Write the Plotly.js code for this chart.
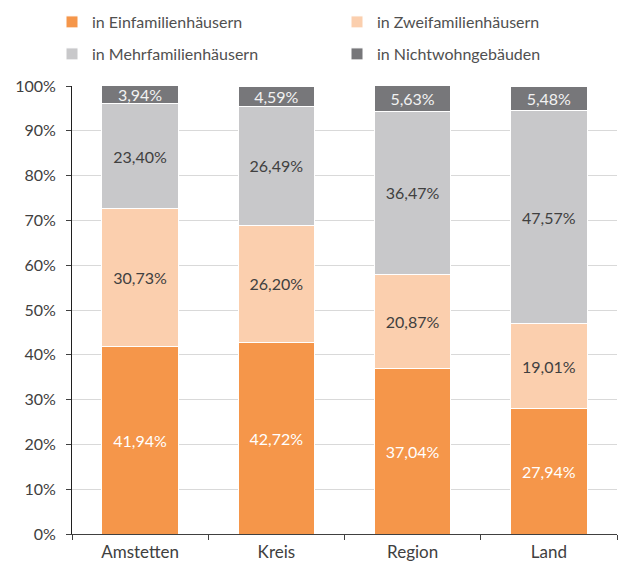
<!DOCTYPE html>
<html>
<head>
<meta charset="utf-8">
<script src="https://cdn.plot.ly/plotly-3.0.1.min.js"></script>
<style>html,body{margin:0;padding:0;background:#fff;}#chart{width:619px;height:561px;}</style>
</head>
<body>
<div id="chart"></div>
<script>
const categories = ["Amstetten", "Kreis", "Region", "Land"];
const seriesNames = ["in Einfamilienhäusern", "in Zweifamilienhäusern", "in Mehrfamilienhäusern", "in Nichtwohngebäuden"];
const einfamilien = [41.94, 42.72, 37.04, 27.94];
const zweifamilien = [30.73, 26.20, 20.87, 19.01];
const mehrfamilien = [23.40, 26.49, 36.47, 47.57];
const nichtwohn = [3.94, 4.59, 5.63, 5.48];
const yTicks = [0, 10, 20, 30, 40, 50, 60, 70, 80, 90, 100];
const yTickLabels = ["0%", "10%", "20%", "30%", "40%", "50%", "60%", "70%", "80%", "90%", "100%"];

const colors = ["#F5964A", "#FBCFAE", "#C8C8CA", "#77777A"];
const textColors = ["#FFFFFF", "#404040", "#404040", "#F2F2F2"];
const values = [einfamilien, zweifamilien, mehrfamilien, nichtwohn];
const legendIds = ["legend", "legend2", "legend3", "legend4"];

const FONT = "Lato, sans-serif";

const traces = values.map((v, i) => ({
  type: "bar",
  name: seriesNames[i],
  legend: legendIds[i],
  x: categories,
  y: v,
  marker: { color: colors[i], line: { color: "#FFFFFF", width: 1 } },
  texttemplate: "%{y:.2f}%",
  textposition: "inside",
  insidetextanchor: "middle",
  textangle: 0,
  textfont: { family: FONT, size: 16, color: textColors[i] },
  hoverinfo: "skip"
}));

function legendAt(xPx, yPx) {
  return {
    orientation: "h",
    xref: "container", yref: "container",
    xanchor: "left", yanchor: "middle",
    x: xPx / 619, y: 1 - yPx / 561,
    font: { family: FONT, size: 16, color: "#505050" },
    bgcolor: "rgba(0,0,0,0)"
  };
}

const layout = {
  width: 619,
  height: 561,
  barmode: "stack",
  bargap: 0.44,
  separators: ", ",
  paper_bgcolor: "#FFFFFF",
  plot_bgcolor: "#FFFFFF",
  margin: { l: 72, r: 2, t: 86, b: 27 },
  font: { family: FONT, color: "#404040", size: 16 },
  uniformtext: { mode: "show", minsize: 16 },
  showlegend: true,
  legend: legendAt(52, 22),
  legend2: legendAt(337, 22),
  legend3: legendAt(52, 54),
  legend4: legendAt(337, 54),
  xaxis: {
    type: "category",
    showline: true,
    linecolor: "#404040",
    linewidth: 1,
    ticks: "outside",
    tickson: "boundaries",
    ticklen: 5,
    tickcolor: "#404040",
    ticklabelstandoff: 3,
    showgrid: false,
    tickfont: { size: 17, color: "#404040" }
  },
  yaxis: {
    range: [0, 100],
    tickmode: "array",
    tickvals: yTicks,
    ticktext: yTickLabels,
    showline: true,
    linecolor: "#202020",
    linewidth: 1,
    ticks: "outside",
    ticklen: 5,
    tickcolor: "#404040",
    ticklabelstandoff: 7,
    showgrid: true,
    gridcolor: "#D9D9D9",
    gridwidth: 1,
    zeroline: false,
    tickfont: { size: 16, color: "#404040" }
  }
};

Plotly.newPlot("chart", traces, layout, { displayModeBar: false, staticPlot: true });
</script>
</body>
</html>
